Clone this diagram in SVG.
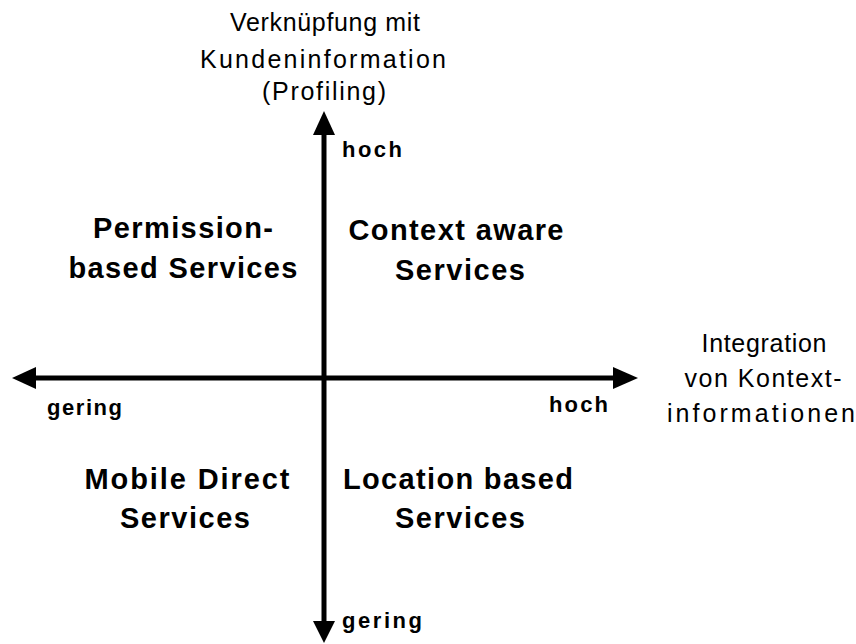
<svg xmlns="http://www.w3.org/2000/svg" width="856" height="644" viewBox="0 0 856 644">
<style>
text{font-family:"Liberation Sans",Arial,sans-serif;fill:#000}
.t{font-size:25px;text-anchor:middle}
.q{font-size:29px;font-weight:bold;text-anchor:middle}
.s{font-size:22px;font-weight:bold}
.ax{stroke:#000;stroke-width:5;fill:none}
</style>
<rect width="856" height="644" fill="#fff"/>
<g id="connectors">
<line class="ax" x1="324" y1="130" x2="324" y2="624"/>
<polygon points="324,111 313,135 335,135"/>
<polygon points="324,643 313,621 335,621"/>
<line class="ax" x1="30" y1="378" x2="618" y2="378"/>
<polygon points="12,378 36,367 36,389"/>
<polygon points="638,378 613,367 613,389"/>
</g>
<g id="y-axis-title">
<text class="t" x="325" y="31" textLength="190" lengthAdjust="spacing">Verknüpfung mit</text>
<text class="t" x="323" y="68" textLength="246" lengthAdjust="spacing">Kundeninformation</text>
<text class="t" x="324" y="100" textLength="124" lengthAdjust="spacing">(Profiling)</text>
</g>
<g id="x-axis-title">
<text class="t" x="764" y="352" textLength="125" lengthAdjust="spacing">Integration</text>
<text class="t" x="763" y="387" textLength="157" lengthAdjust="spacing">von Kontext-</text>
<text class="t" x="761" y="422" textLength="188" lengthAdjust="spacing">informationen</text>
</g>
<g id="labels">
<text class="s" x="342" y="157" textLength="60" lengthAdjust="spacing">hoch</text>
<text class="s" x="342" y="628" textLength="80" lengthAdjust="spacing">gering</text>
<text class="s" x="47" y="415" textLength="75" lengthAdjust="spacing">gering</text>
<text class="s" x="549" y="412" textLength="59" lengthAdjust="spacing">hoch</text>
</g>
<g id="permission">
<text class="q" x="183" y="238" textLength="180" lengthAdjust="spacing">Permission-</text>
<text class="q" x="183" y="278" textLength="229" lengthAdjust="spacing">based Services</text>
</g>
<g id="context">
<text class="q" x="456" y="240" textLength="215" lengthAdjust="spacing">Context aware</text>
<text class="q" x="460" y="280" textLength="130" lengthAdjust="spacing">Services</text>
</g>
<g id="mobile">
<text class="q" x="187" y="489" textLength="205" lengthAdjust="spacing">Mobile Direct</text>
<text class="q" x="185" y="528" textLength="130" lengthAdjust="spacing">Services</text>
</g>
<g id="location">
<text class="q" x="458" y="489" textLength="230" lengthAdjust="spacing">Location based</text>
<text class="q" x="460" y="528" textLength="130" lengthAdjust="spacing">Services</text>
</g>
</svg>
